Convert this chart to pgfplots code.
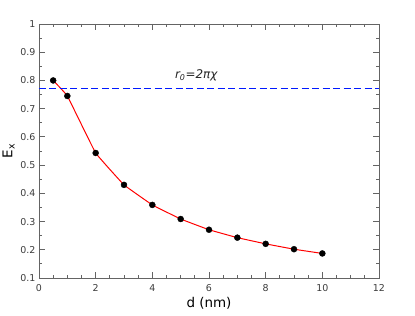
\documentclass[border=0pt]{standalone}
\usepackage{pgfplots}
\pgfplotsset{compat=1.18}
\usepackage{fontspec}
\setmainfont{DejaVu Sans}
\definecolor{axgray}{RGB}{100,100,100}
\definecolor{lblgray}{RGB}{60,60,60}
\begin{document}
\begin{tikzpicture}[x=1bp,y=1bp]
\path[use as bounding box] (-39bp,-38bp) rectangle (376bp,278bp);
\begin{axis}[
  scale only axis,
  width=340bp, height=254bp,
  xmin=0, xmax=12, ymin=0.1, ymax=1,
  xtick={0,2,...,12},
  ytick={0.1,0.2,...,1.0},
  yticklabels={0.1,0.2,0.3,0.4,0.5,0.6,0.7,0.8,0.9,1},
  minor x tick num=3,
  minor y tick num=1,
  tick align=inside,
  major tick length=6bp,
  minor tick length=3bp,
  axis line style={axgray, line width=0.8pt},
  every tick/.style={axgray, line width=0.8pt},
  tick label style={font=\fontsize{9.5}{11}\selectfont, text=lblgray},
  /pgf/number format/assume math mode=true,
  xticklabel style={yshift=-3bp},
  xlabel={d (nm)},
  ylabel={E\textsubscript{x}},
  label style={font=\fontsize{13.5}{15}\selectfont, text=black},
  xlabel style={yshift=1bp},
  ylabel style={yshift=-1bp},
]
\addplot[red, line width=1pt, smooth, tension=0.12] coordinates {
(0.5,0.800) (1,0.745) (2,0.543) (3,0.430) (4,0.359) (5,0.309) (6,0.271) (7,0.243) (8,0.221) (9,0.202) (10,0.187)
};
\addplot[only marks, mark=*, mark size=3bp, black] coordinates {
(0.5,0.800) (1,0.745) (2,0.543) (3,0.430) (4,0.359) (5,0.309) (6,0.271) (7,0.243) (8,0.221) (9,0.202) (10,0.187)
};
\addplot[blue!90!cyan, line width=1.1pt, dash pattern=on 7bp off 3.5bp] coordinates {(0,0.773) (12,0.773)};
\node[font=\itshape\fontsize{12}{14}\selectfont, text=black!85] at (axis cs:5.55,0.818) {r\textsubscript{0}=2πχ};
\end{axis}
\end{tikzpicture}
\end{document}
